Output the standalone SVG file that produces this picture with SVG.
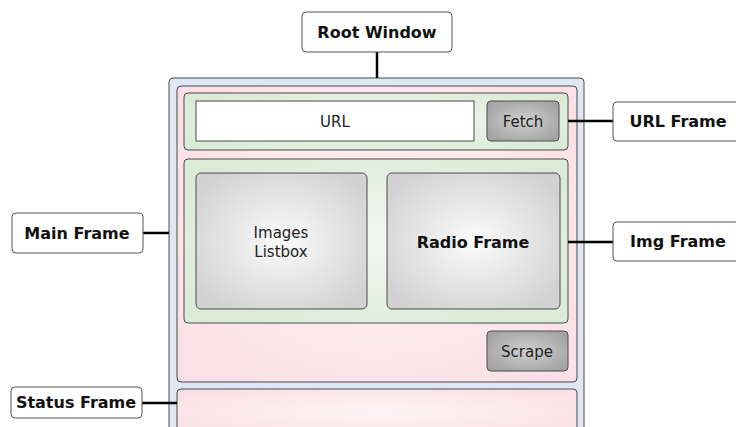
<svg xmlns="http://www.w3.org/2000/svg" width="736" height="427" viewBox="0 0 736 427">
<defs>
<radialGradient id="gPink" cx="50%" cy="50%" r="60%"><stop offset="0" stop-color="#fdf4f6"/><stop offset="1" stop-color="#fbe1e7"/></radialGradient>
<radialGradient id="gGreen" cx="50%" cy="50%" r="60%"><stop offset="0" stop-color="#f2f8f0"/><stop offset="1" stop-color="#dcebd8"/></radialGradient>
<radialGradient id="gGray" cx="50%" cy="50%" r="60%"><stop offset="0" stop-color="#fbfbfb"/><stop offset="1" stop-color="#d2d2d2"/></radialGradient>
<radialGradient id="gBtn" cx="50%" cy="50%" r="60%"><stop offset="0" stop-color="#cfcfcf"/><stop offset="1" stop-color="#a3a3a3"/></radialGradient>
<style>
.frame{stroke:#4a4a4a;stroke-width:1}
.label{fill:#ffffff;stroke:#555555;stroke-width:1}
.lt{font-family:"DejaVu Sans","Noto Sans",sans-serif;font-weight:bold;font-size:16px;fill:#111111;text-anchor:middle}
.nt{font-family:"DejaVu Sans","Noto Sans",sans-serif;font-size:15px;fill:#222222;text-anchor:middle}
.conn{stroke:#000000;stroke-width:2.5;fill:none}
</style>
</defs>
<g id="root-window-frame"><rect x="169" y="78" width="415" height="360" rx="4" fill="#dfe7f6" class="frame"/></g>
<g id="main-frame-box"><rect x="177" y="86" width="400" height="296" rx="4" fill="url(#gPink)" class="frame"/></g>
<g id="url-frame-box"><rect x="184" y="93" width="384" height="57" rx="4" fill="url(#gGreen)" class="frame"/></g>
<g id="url-entry"><rect x="196" y="101" width="278" height="40" fill="#ffffff" class="frame"/><text class="nt" x="335" y="127">URL</text></g>
<g id="fetch-button"><rect x="487" y="101" width="72" height="40" rx="4" fill="url(#gBtn)" class="frame"/><text class="nt" x="523" y="127">Fetch</text></g>
<g id="img-frame-box"><rect x="184" y="159" width="384" height="164" rx="4" fill="url(#gGreen)" class="frame"/></g>
<g id="images-listbox"><rect x="196" y="173" width="171" height="136" rx="5" fill="url(#gGray)" class="frame"/><text class="nt" x="281" y="238">Images</text><text class="nt" x="281" y="257">Listbox</text></g>
<g id="radio-frame"><rect x="387" y="173" width="173" height="136" rx="5" fill="url(#gGray)" class="frame"/><text class="lt" x="473" y="248">Radio Frame</text></g>
<g id="scrape-button"><rect x="487" y="331" width="81" height="40" rx="4" fill="url(#gBtn)" class="frame"/><text class="nt" x="527" y="357">Scrape</text></g>
<g id="status-frame-box"><rect x="177" y="389" width="400" height="46" rx="4" fill="url(#gPink)" class="frame"/></g>
<g id="connectors">
<line class="conn" x1="377" y1="52" x2="377" y2="78"/>
<line class="conn" x1="143" y1="233" x2="169" y2="233"/>
<line class="conn" x1="568" y1="121" x2="613" y2="121"/>
<line class="conn" x1="568" y1="242" x2="613" y2="242"/>
<line class="conn" x1="142" y1="403" x2="177" y2="403"/>
</g>
<g id="root-window"><rect x="302" y="12" width="150" height="40" rx="4" class="label"/><text class="lt" x="377" y="38">Root Window</text></g>
<g id="main-frame"><rect x="12" y="213" width="131" height="40" rx="4" class="label"/><text class="lt" x="77" y="239">Main Frame</text></g>
<g id="url-frame"><rect x="613" y="102" width="131" height="39" rx="4" class="label"/><text class="lt" x="678" y="127">URL Frame</text></g>
<g id="img-frame"><rect x="613" y="222" width="131" height="39" rx="4" class="label"/><text class="lt" x="678" y="247">Img Frame</text></g>
<g id="status-frame"><rect x="11" y="387" width="131" height="31" rx="4" class="label"/><text class="lt" x="76" y="408">Status Frame</text></g>
</svg>
